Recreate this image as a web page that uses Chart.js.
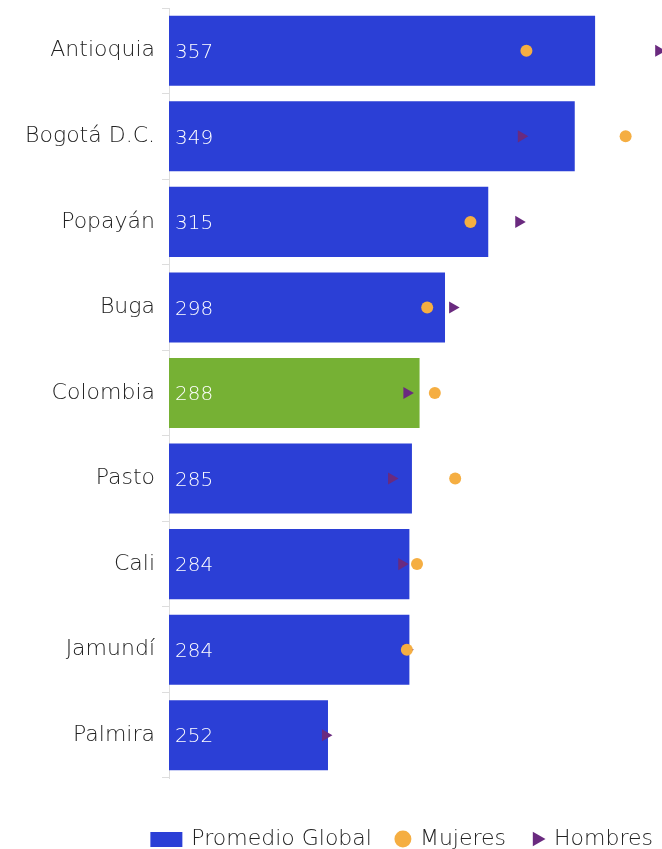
<!DOCTYPE html>
<html>
<head>
<meta charset="utf-8">
<script src="https://cdn.jsdelivr.net/npm/chart.js@4.4.0/dist/chart.umd.min.js"></script>
<style>
  body { margin: 0; background: #fff; }
  canvas { display: block; }
</style>
</head>
<body>
<canvas id="chart" width="662" height="849"></canvas>
<script>
// Datos
const regiones = ['Antioquia', 'Bogotá D.C.', 'Popayán', 'Buga', 'Colombia', 'Pasto', 'Cali', 'Jamundí', 'Palmira'];
const promedioGlobal = [357, 349, 315, 298, 288, 285, 284, 284, 252];
const mujeres = [330, 369, 308, 291, 294, 302, 287, 283, null];
const hombres = [382, 328, 327, 301, 283, 277, 281, 283, 251];

const azul = '#2b3fd6';
const verde = '#76b134';
const barColors = regiones.map(r => r === 'Colombia' ? verde : azul);

const fontFamily = "'DejaVu Sans', sans-serif";

// caja del legend para las barras (rectangulo ancho, con margen a la derecha)
const legendBox = document.createElement('canvas');
legendBox.width = 52;
legendBox.height = 15;
const lctx = legendBox.getContext('2d');
lctx.fillStyle = azul;
lctx.fillRect(2, 0, 32, 15);

// etiquetas dentro de las barras
const barLabels = {
  id: 'barLabels',
  afterLayout(chart) {
    // mover la leyenda abajo y a la derecha
    chart.legend.top += 25;
    chart.legend.bottom += 25;
    chart.legend.left += 16;
    chart.legend.right += 16;
  },
  afterDraw(chart) {
    const ctx = chart.ctx;
    const yScale = chart.scales.y;
    ctx.save();
    ctx.fillStyle = '#ffffff';
    ctx.font = '200 20px ' + fontFamily;
    ctx.textAlign = 'left';
    ctx.textBaseline = 'middle';
    promedioGlobal.forEach((v, i) => {
      ctx.fillText(String(v), chart.chartArea.left + 6, yScale.getPixelForValue(i) + 2);
    });
    ctx.restore();
  }
};

new Chart(document.getElementById('chart').getContext('2d'), {
  type: 'bar',
  data: {
    labels: regiones,
    datasets: [
      {
        label: 'Promedio Global',
        data: promedioGlobal,
        backgroundColor: barColors,
        barPercentage: 0.9,
        categoryPercentage: 0.91,
        pointStyle: legendBox,
        order: 3
      },
      {
        type: 'line',
        label: 'Mujeres',
        data: mujeres,
        showLine: false,
        pointStyle: 'circle',
        pointRadius: 6,
        pointBackgroundColor: '#f5ae42',
        pointBorderWidth: 0,
        backgroundColor: '#f5ae42',
        borderColor: '#f5ae42',
        order: 1
      },
      {
        type: 'line',
        label: 'Hombres',
        data: hombres,
        showLine: false,
        pointStyle: 'triangle',
        pointRotation: 90,
        pointRadius: 7,
        pointBackgroundColor: '#6a2a7f',
        pointBorderWidth: 0,
        backgroundColor: '#6a2a7f',
        borderColor: '#6a2a7f',
        order: 2
      }
    ]
  },
  options: {
    indexAxis: 'y',
    responsive: false,
    animation: false,
    devicePixelRatio: 1,
    layout: { autoPadding: false, padding: { top: 8, right: 0, left: 0, bottom: 14 } },
    scales: {
      x: {
        display: false,
        min: 189.5,
        max: 383.3
      },
      y: {
        afterFit(scale) {
          scale.width = 169;
          scale.paddingTop = 0;
          scale.paddingBottom = 0;
        },
        grid: {
          display: true,
          drawOnChartArea: false,
          offset: true,
          tickLength: 7,
          color: '#dddddd'
        },
        border: { color: '#dddddd' },
        ticks: {
          color: '#222222',
          padding: 7,
          font: { family: fontFamily, size: 22, weight: 200 }
        }
      }
    },
    plugins: {
      legend: {
        position: 'bottom',
        align: 'end',
        labels: {
          usePointStyle: true,
          color: '#222222',
          padding: 25,
          boxHeight: 12,
          boxWidth: 12,
          font: { family: fontFamily, size: 22, weight: 200 },
          sort: (a, b) => a.datasetIndex - b.datasetIndex
        }
      },
      tooltip: { enabled: false }
    }
  },
  plugins: [barLabels]
});
</script>
</body>
</html>
